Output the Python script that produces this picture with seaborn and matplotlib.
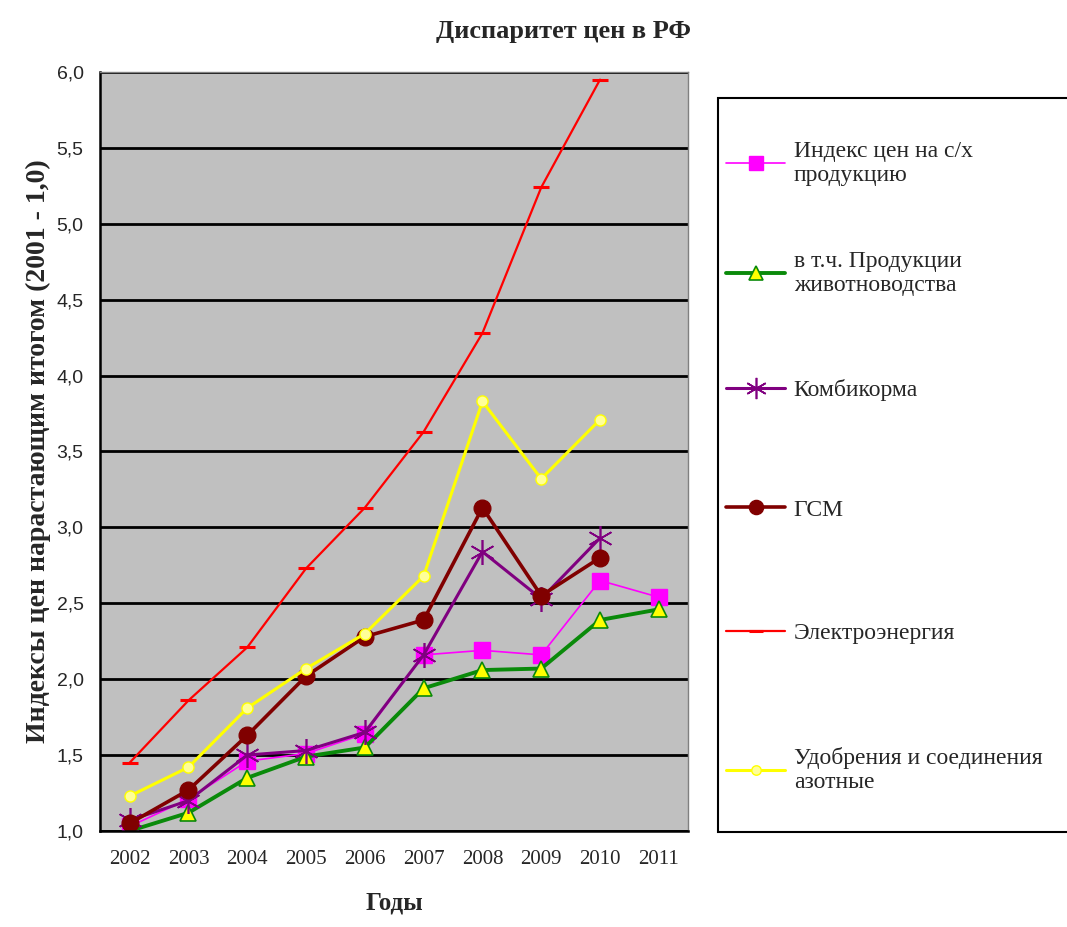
import matplotlib
matplotlib.use("Agg")
import matplotlib.pyplot as plt
from matplotlib.lines import Line2D
from matplotlib.patches import Rectangle
from matplotlib.ticker import FixedLocator, FuncFormatter
import numpy as np
import pandas as pd
import seaborn as sns

# Data (NaN = no point for that year)
years = [2002, 2003, 2004, 2005, 2006, 2007, 2008, 2009, 2010, 2011]
agri_index = [1.03, 1.21, 1.46, 1.51, 1.64, 2.16, 2.19, 2.16, 2.65, 2.54]
livestock = [1.00, 1.12, 1.35, 1.49, 1.55, 1.94, 2.06, 2.07, 2.39, 2.46]
feed = [1.07, 1.20, 1.50, 1.53, 1.65, 2.16, 2.84, 2.53, 2.93, np.nan]
fuel = [1.05, 1.27, 1.63, 2.02, 2.28, 2.39, 3.13, 2.55, 2.80, np.nan]
electricity = [1.45, 1.86, 2.21, 2.73, 3.13, 3.63, 4.28, 5.24, 5.95, np.nan]
fertilizer = [1.23, 1.42, 1.81, 2.07, 2.30, 2.68, 3.83, 3.32, 3.71, np.nan]

labels = ["Индекс цен на с/х\nпродукцию",
          "в т.ч. Продукции\nживотноводства",
          "Комбикорма",
          "ГСМ",
          "Электроэнергия",
          "Удобрения и соединения\nазотные"]
series = [agri_index, livestock, feed, fuel, electricity, fertilizer]

styles = [
    dict(color="#FF00FF", lw=1.2, marker="s", ms=12, mfc="#FF00FF", mec="#FF00FF", mew=1),
    dict(color="#0A8A0A", lw=2.8, marker="^", ms=12, mfc="#FFFF00", mec="#0A8A0A", mew=1.2),
    dict(color="#800080", lw=2.2, marker=(6, 2, 0), ms=18, mfc="#800080", mec="#800080", mew=1.2),
    dict(color="#800000", lw=2.6, marker="o", ms=12, mfc="#800000", mec="#800000", mew=1),
    dict(color="#FF0000", lw=1.6, marker="_", ms=12, mfc="#FF0000", mec="#FF0000", mew=2.2),
    dict(color="#FFFF00", lw=2.2, marker="o", ms=8, mfc="#FFFF99", mec="#FFFF00", mew=1),
]

sns.set_style("white")
serif = ["Liberation Serif", "DejaVu Serif"]
narrow = ["Liberation Sans Narrow", "Liberation Sans", "DejaVu Sans"]

fig = plt.figure(figsize=(10.67, 9.27), dpi=100)
ax = fig.add_axes([0.094, 0.1036, 0.551, 0.8187])
ax.set_facecolor("#C0C0C0")

for vals, lab, st in zip(series, labels, styles):
    df = pd.DataFrame({"year": years, "value": vals}).dropna()
    sns.lineplot(data=df, x="year", y="value", ax=ax, color=st["color"],
                 linewidth=st["lw"], marker=st["marker"], markersize=st["ms"],
                 markerfacecolor=st["mfc"], markeredgecolor=st["mec"],
                 markeredgewidth=st["mew"], label=lab, legend=False)

ax.set_xlim(2001.5, 2011.5)
ax.set_ylim(1.0, 6.0)
ax.set_yticks(np.arange(1.0, 6.01, 0.5))
ax.yaxis.set_major_formatter(FuncFormatter(lambda v, p: f"{v:.1f}".replace(".", ",")))
ax.grid(axis="y", color="black", linewidth=2)
ax.set_axisbelow(True)

# tick marks between categories, labels centred under each year
ax.xaxis.set_major_locator(FixedLocator(np.arange(2001.5, 2012, 1.0)))
ax.xaxis.set_minor_locator(FixedLocator(years))
ax.set_xticklabels([])
ax.set_xticklabels([str(y) for y in years], minor=True)
ax.tick_params(axis="x", which="major", direction="out", length=7, width=1.5, color="black")
ax.tick_params(axis="x", which="minor", length=0, pad=14, labelsize=15)
ax.tick_params(axis="y", direction="out", length=7, width=1.5, color="black", labelsize=14, pad=5)
for t in ax.get_xticklabels(minor=True):
    t.set_family(serif)
for t in ax.get_yticklabels():
    t.set_family(narrow)

for side in ["left", "bottom"]:
    ax.spines[side].set_color("black")
    ax.spines[side].set_linewidth(1.8)
for side in ["top", "right"]:
    ax.spines[side].set_color("#808080")
    ax.spines[side].set_linewidth(1)

ax.set_xlabel("Годы", fontsize=18, fontweight="bold", family=serif, labelpad=16)
ax.set_ylabel("Индексы цен нарастающим итогом (2001 - 1,0)", fontsize=20,
              fontweight="bold", family=serif, labelpad=4)
fig.text(0.528, 0.966, "Диспаритет цен в РФ", ha="center", va="center",
         fontsize=19, fontweight="bold", family=serif)

# legend box, cut off by the right edge as in the reference
fig.patches.append(Rectangle((0.673, 0.1025), 0.4, 0.7915, transform=fig.transFigure,
                             facecolor="white", edgecolor="black", linewidth=1.5))

# one legend per entry so the uneven spacing of the original can be kept
entry_y = [0.824, 0.705, 0.579, 0.450, 0.317, 0.169]
for lab, st, yy in zip(labels, styles, entry_y):
    h = Line2D([0], [0], color=st["color"], lw=st["lw"], marker=st["marker"],
               markersize=st["ms"] * 0.85, markerfacecolor=st["mfc"],
               markeredgecolor=st["mec"], markeredgewidth=st["mew"])
    fig.legend([h], [lab], loc="center left", bbox_to_anchor=(0.672, yy),
               frameon=False, prop={"family": serif, "size": 17},
               handlelength=2.5, handletextpad=0.35, borderaxespad=0)

fig.savefig("out.png", dpi=100, facecolor="white")
